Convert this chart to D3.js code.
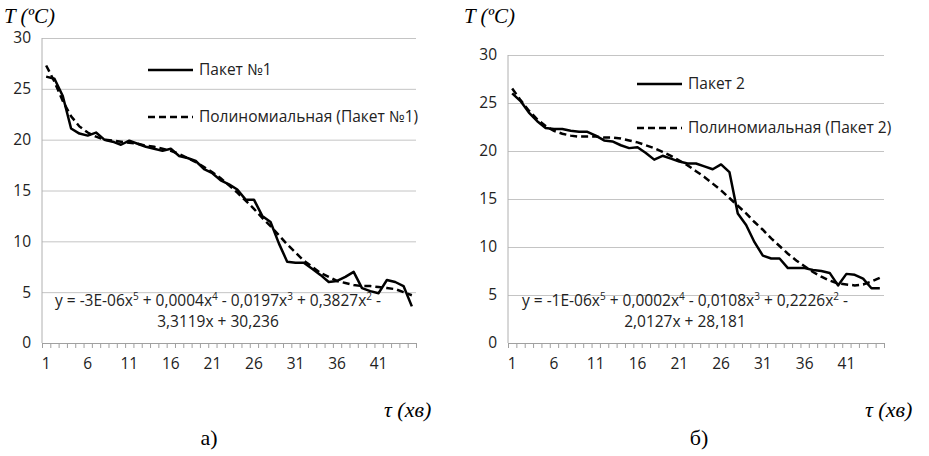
<!DOCTYPE html>
<html>
<head>
<meta charset="utf-8">
<script src="https://cdn.jsdelivr.net/npm/d3@7"></script>
<style>
  body { margin: 0; background: #fff; }
  svg { display: block; }
</style>
</head>
<body>
<svg id="chart"></svg>
<script>
// категорії (хвилини) та підписи осі X
const categories = d3.range(1, 46);
const xTickLabels = [1, 6, 11, 16, 21, 26, 31, 36, 41];
const yTickValues = [0, 5, 10, 15, 20, 25, 30];

// Пакет №1
const paket1 = [26.2, 26.0, 24.3, 21.1, 20.6, 20.4, 20.7, 20.0, 19.8, 19.5,
                19.9, 19.6, 19.3, 19.1, 18.9, 19.1, 18.4, 18.2, 17.9, 17.1,
                16.7, 16.0, 15.6, 15.1, 14.1, 14.1, 12.5, 11.9, 9.8, 8.0,
                7.9, 7.9, 7.3, 6.7, 6.0, 6.1, 6.5, 7.0, 5.4, 5.1,
                4.9, 6.2, 6.0, 5.6, 3.6];
const trend1 = [27.3, 25.7, 23.8, 22.3, 21.3, 20.7, 20.3, 20.0, 19.9, 19.8,
                19.7, 19.6, 19.4, 19.3, 19.1, 18.9, 18.6, 18.2, 17.8, 17.3,
                16.8, 16.2, 15.5, 14.8, 14.0, 13.2, 12.3, 11.5, 10.6, 9.7,
                8.9, 8.1, 7.5, 6.9, 6.5, 6.1, 5.9, 5.7, 5.6, 5.6,
                5.5, 5.4, 5.3, 5.0, 4.7];

// Пакет 2
const paket2 = [26.0, 25.2, 24.0, 23.1, 22.4, 22.3, 22.3, 22.1, 22.0, 22.0,
                21.6, 21.1, 21.0, 20.6, 20.3, 20.4, 19.8, 19.1, 19.5, 19.2,
                18.9, 18.7, 18.7, 18.4, 18.1, 18.6, 17.8, 13.5, 12.3, 10.5,
                9.1, 8.8, 8.8, 7.8, 7.8, 7.8, 7.6, 7.5, 7.3, 6.0,
                7.2, 7.1, 6.7, 5.7, 5.7];
const trend2 = [26.5, 25.3, 24.2, 23.3, 22.6, 22.1, 21.8, 21.6, 21.5, 21.5,
                21.5, 21.4, 21.4, 21.3, 21.1, 20.9, 20.6, 20.3, 19.9, 19.5,
                19.0, 18.5, 17.9, 17.3, 16.6, 15.9, 15.1, 14.3, 13.5, 12.6,
                11.8, 10.9, 10.1, 9.3, 8.6, 8.0, 7.4, 6.9, 6.5, 6.2,
                6.1, 6.0, 6.1, 6.4, 6.8];

const seriesNames = ['Пакет №1', 'Пакет 2'];
const trendNames = ['Полиномиальная (Пакет №1)', 'Полиномиальная (Пакет 2)'];
const equations = [
    ['y = -3E-06x^5 + 0,0004x^4 - 0,0197x^3 + 0,3827x^2 -', '3,3119x + 30,236'],
    ['y = -1E-06x^5 + 0,0002x^4 - 0,0108x^3 + 0,2226x^2 -', '2,0127x + 28,181']
];
const captions = ['а)', 'б)'];

const width = 929, height = 456;
const svg = d3.select('#chart').attr('width', width).attr('height', height);

// розміщення двох графіків
const panels = [
    {series: paket1, trend: trend1, left: 42, right: 416, top: 38, bottom: 343,
     ox: 0, legX: 148, legY: [70, 117], eqX: 218, capX: 209, tauX: 384},
    {series: paket2, trend: trend2, left: 508, right: 884, top: 55, bottom: 343,
     ox: 460, legX: 637, legY: [84, 128], eqX: 685, capX: 699, tauX: 865}
];

const sans = '"Open Sans", "Liberation Sans", sans-serif';
const serif = '"Liberation Serif", "DejaVu Serif", serif';
const fs = 15.5;

panels.forEach((p, k) => {
    const g = svg.append('g');

    const x = d3.scaleBand().domain(categories).range([p.left, p.right]);
    const xLin = d3.scaleLinear().domain([0, categories.length]).range([p.left, p.right]);
    const y = d3.scaleLinear().domain([0, 30]).range([p.bottom, p.top]);
    const cx = d => x(d) + x.bandwidth() / 2;

    // сітка + вісь Y
    const yAxis = g.append('g')
        .attr('transform', `translate(${p.left},0)`)
        .call(d3.axisLeft(y).tickValues(yTickValues).tickSize(-(p.right - p.left)).tickPadding(11));
    yAxis.select('.domain').remove();
    yAxis.selectAll('.tick line').attr('stroke', '#c4c4c4').attr('stroke-width', 1);
    yAxis.selectAll('.tick text')
        .attr('font-family', sans).attr('font-size', fs).attr('fill', '#222');
    g.append('line')
        .attr('x1', p.left).attr('x2', p.left)
        .attr('y1', p.top).attr('y2', p.bottom)
        .attr('stroke', '#b0b0b0');

    // вісь X: риски між категоріями
    const xTicks = g.append('g')
        .attr('transform', `translate(0,${p.bottom})`)
        .call(d3.axisBottom(xLin).tickValues(d3.range(0, categories.length + 1)).tickFormat('').tickSize(5));
    xTicks.selectAll('line, path').attr('stroke', '#a0a0a0');

    const xLabels = g.append('g')
        .attr('transform', `translate(0,${p.bottom})`)
        .call(d3.axisBottom(x).tickValues(xTickLabels).tickSize(0).tickPadding(15));
    xLabels.select('.domain').remove();
    xLabels.selectAll('.tick text')
        .attr('font-family', sans).attr('font-size', fs).attr('fill', '#222');

    // лінії
    const line = d3.line().x((d, i) => cx(categories[i])).y(d => y(d));

    g.append('path').datum(p.trend)
        .attr('d', line)
        .attr('fill', 'none').attr('stroke', '#000')
        .attr('stroke-width', 2.5).attr('stroke-dasharray', '7,4');

    g.append('path').datum(p.series)
        .attr('d', line)
        .attr('fill', 'none').attr('stroke', '#000')
        .attr('stroke-width', 2.5).attr('stroke-linejoin', 'round');

    // легенда
    const legend = [
        {name: seriesNames[k], dash: null},
        {name: trendNames[k], dash: '7,4'}
    ];
    legend.forEach((l, j) => {
        g.append('line')
            .attr('x1', p.legX).attr('x2', p.legX + 45)
            .attr('y1', p.legY[j]).attr('y2', p.legY[j])
            .attr('stroke', '#000').attr('stroke-width', 2.5)
            .attr('stroke-dasharray', l.dash);
        g.append('text')
            .attr('x', p.legX + 51).attr('y', p.legY[j])
            .attr('dy', '0.35em')
            .attr('font-family', sans).attr('font-size', fs).attr('fill', '#222')
            .text(l.name);
    });

    // рівняння тренду
    equations[k].forEach((str, j) => {
        const t = g.append('text')
            .attr('x', p.eqX).attr('y', 306 + j * 21)
            .attr('dy', '0.35em')
            .attr('text-anchor', 'middle')
            .attr('font-family', sans).attr('font-size', fs).attr('fill', '#222');
        let shift = 0;
        str.split(/(\^\d)/).forEach(part => {
            if (!part) return;
            if (part.startsWith('^')) {
                t.append('tspan').attr('dy', -6).attr('font-size', 10).text(part.slice(1));
                shift = 6;
            } else {
                t.append('tspan').attr('dy', shift).text(part);
                shift = 0;
            }
        });
    });

    // підписи осей
    g.append('text')
        .attr('x', p.ox + 4).attr('y', 23)
        .attr('font-family', serif).attr('font-style', 'italic').attr('font-size', 21)
        .text('T (ºC)');
    g.append('text')
        .attr('x', p.tauX).attr('y', 417)
        .attr('font-family', serif).attr('font-style', 'italic').attr('font-size', 22)
        .text('τ (хв)');
    g.append('text')
        .attr('x', p.capX).attr('y', 445)
        .attr('text-anchor', 'middle')
        .attr('font-family', serif).attr('font-size', 22)
        .text(captions[k]);
});
</script>
</body>
</html>
